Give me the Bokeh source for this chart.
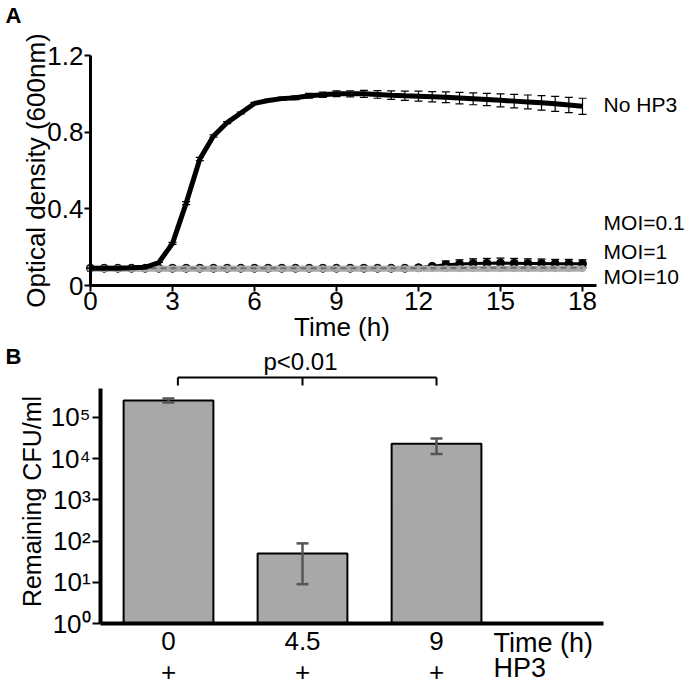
from bokeh.plotting import figure
from bokeh.models import ColumnDataSource, Range1d, FixedTicker, Whisker, TeeHead, Label
from bokeh.layouts import column
from bokeh.embed import file_html
from bokeh.resources import INLINE

FONT = "Liberation Sans"

# ---------------- Panel A data ----------------
hours = [0, 0.5, 1, 1.5, 2, 2.5, 3, 3.5, 4, 4.5, 5, 5.5, 6, 6.5, 7, 7.5, 8, 8.5, 9,
         9.5, 10, 10.5, 11, 11.5, 12, 12.5, 13, 13.5, 14, 14.5, 15, 15.5, 16, 16.5,
         17, 17.5, 18]
od_no_hp3 = [0.09, 0.09, 0.09, 0.092, 0.095, 0.12, 0.22, 0.43, 0.66, 0.78, 0.85, 0.90,
             0.95, 0.965, 0.975, 0.98, 0.99, 0.995, 1.0, 1.0, 1.0, 0.997, 0.993, 0.99,
             0.988, 0.985, 0.982, 0.978, 0.974, 0.97, 0.966, 0.962, 0.958, 0.953, 0.948,
             0.942, 0.935]
od_no_hp3_err = [0, 0, 0, 0, 0, 0, 0.005, 0.008, 0.008, 0.006, 0.005, 0.005, 0.005,
                 0.006, 0.008, 0.01, 0.012, 0.014, 0.015, 0.016, 0.018, 0.02, 0.022,
                 0.024, 0.026, 0.027, 0.028, 0.03, 0.031, 0.032, 0.034, 0.035, 0.036,
                 0.038, 0.039, 0.04, 0.042]
od_moi01 = [0.09, 0.09, 0.09, 0.09, 0.09, 0.09, 0.09, 0.09, 0.09, 0.09, 0.09, 0.09,
            0.09, 0.09, 0.09, 0.09, 0.09, 0.09, 0.09, 0.09, 0.09, 0.09, 0.09, 0.09,
            0.093, 0.10, 0.108, 0.112, 0.115, 0.116, 0.117, 0.116, 0.115, 0.115, 0.114,
            0.114, 0.113]
od_moi01_err = [0, 0, 0, 0, 0, 0, 0, 0, 0, 0, 0, 0, 0, 0, 0, 0, 0, 0, 0, 0, 0, 0, 0, 0,
                0, 0, 0.02, 0.022, 0.024, 0.025, 0.026, 0.025, 0.024, 0.023, 0.022,
                0.022, 0.021]
od_moi1 = [0.09, 0.09, 0.09, 0.09, 0.09, 0.09, 0.09, 0.09, 0.09, 0.09, 0.09, 0.09,
           0.09, 0.09, 0.09, 0.09, 0.09, 0.09, 0.09, 0.09, 0.09, 0.09, 0.09, 0.09,
           0.09, 0.09, 0.091, 0.091, 0.092, 0.092, 0.092, 0.092, 0.092, 0.092, 0.092,
           0.092, 0.092]
od_moi10 = [0.088, 0.088, 0.088, 0.088, 0.088, 0.088, 0.088, 0.088, 0.088, 0.088,
            0.088, 0.088, 0.088, 0.088, 0.088, 0.088, 0.088, 0.088, 0.088, 0.088,
            0.088, 0.088, 0.088, 0.088, 0.088, 0.088, 0.088, 0.088, 0.088, 0.088,
            0.088, 0.088, 0.088, 0.088, 0.088, 0.088, 0.088]
a_xticks = [0, 3, 6, 9, 12, 15, 18]
a_yticks = [0, 0.4, 0.8, 1.2]
a_series_labels = ["No HP3", "MOI=0.1", "MOI=1", "MOI=10"]

# ---------------- Panel B data ----------------
b_times = ["0", "4.5", "9"]
b_hp3 = ["+", "+", "+"]
cfu = [2.6e5, 50, 2.3e4]
cfu_low = [2.3e5, 9, 1.3e4]
cfu_high = [2.9e5, 88, 3.1e4]
b_yticks = [1, 10, 100, 1000, 10000, 100000]
b_ytick_labels = ["10\u2070", "10\u00b9", "10\u00b2", "10\u00b3", "10\u2074", "10\u2075"]
p_text = "p<0.01"


def style_axis(ax, lw, tick_out, font_size, standoff):
    ax.axis_line_width = lw
    ax.axis_line_color = "black"
    ax.major_tick_line_width = 2
    ax.major_tick_line_color = "black"
    ax.major_tick_out = tick_out
    ax.major_tick_in = 0
    ax.minor_tick_out = 0
    ax.minor_tick_in = 0
    ax.major_label_text_font = FONT
    ax.major_label_text_font_size = font_size
    ax.major_label_text_color = "black"
    ax.major_label_standoff = standoff


def txt(x, y, text, size, align="left", bold=False, angle=0):
    return Label(x=x, y=y, text=text, text_font=FONT, text_font_size=size,
                 text_font_style="bold" if bold else "normal", text_color="black",
                 text_align=align, text_baseline="middle", angle=angle, angle_units="deg")


def whisker(src, base, lo, hi, color, lw, head, level):
    return Whisker(source=src, base=base, lower=lo, upper=hi, line_color=color,
                   line_width=lw, level=level,
                   upper_head=TeeHead(size=head, line_color=color, line_width=lw),
                   lower_head=TeeHead(size=head, line_color=color, line_width=lw))


# ================= Panel A =================
p1 = figure(width=685, height=342, x_range=Range1d(-3.293, 21.768),
            y_range=Range1d(-0.2974, 1.487), title=None,
            output_backend="svg", toolbar_location=None,
            min_border_left=0, min_border_right=0, min_border_top=0, min_border_bottom=0)
p1.outline_line_color = None
p1.grid.visible = False

style_axis(p1.xaxis[0], 3, 6, "26px", 0)
style_axis(p1.yaxis[0], 3, 6, "26px", 1)
p1.xaxis.fixed_location = 0
p1.yaxis.fixed_location = 0
p1.xaxis.bounds = (0, 18.5)
p1.yaxis.bounds = (0, 1.2)
p1.xaxis.ticker = FixedTicker(ticks=a_xticks)
p1.yaxis.ticker = FixedTicker(ticks=a_yticks)
p1.yaxis.major_label_overrides = {0: "0"}

srcA = ColumnDataSource(dict(
    t=hours,
    no=od_no_hp3,
    no_lo=[v - e for v, e in zip(od_no_hp3, od_no_hp3_err)],
    no_hi=[v + e for v, e in zip(od_no_hp3, od_no_hp3_err)],
    m01=od_moi01,
    m01_lo=[v - e for v, e in zip(od_moi01, od_moi01_err)],
    m01_hi=[v + e for v, e in zip(od_moi01, od_moi01_err)],
    m1=od_moi1,
    m10=od_moi10,
))

# MOI=0.1 (black, with error bars)
p1.add_layout(whisker(srcA, "t", "m01_lo", "m01_hi", "black", 1.3, 8, "underlay"))
p1.line("t", "m01", source=srcA, line_color="black", line_width=3)
p1.scatter("t", "m01", source=srcA, size=8, fill_color="black", line_color="black")
# MOI=10 (light gray)
p1.line("t", "m10", source=srcA, line_color="#a9a9a9", line_width=6)
p1.scatter("t", "m10", source=srcA, size=6, fill_color="#a9a9a9", line_color="#a9a9a9")
# MOI=1 (dashed)
p1.line("t", "m1", source=srcA, line_color="#707070", line_width=2, line_dash="6 4")
# No HP3
p1.line("t", "no", source=srcA, line_color="black", line_width=5)
p1.add_layout(whisker(srcA, "t", "no_lo", "no_hi", "black", 1.2, 8, "overlay"))

# series labels at the right of the curves
label_x = 18.77
label_y = [0.944, 0.329, 0.177, 0.047]
for t_, y_ in zip(a_series_labels, label_y):
    p1.add_layout(txt(label_x, y_, t_, "21px"))

p1.add_layout(txt(9.2, -0.214, "Time (h)", "26px", align="center"))
p1.add_layout(txt(-1.98, 0.6, "Optical density (600nm)", "26px", align="center", angle=90))
p1.add_layout(txt(-3.11, 1.411, "A", "22px", bold=True))

# ================= Panel B =================
p2 = figure(width=685, height=344, x_range=Range1d(-1.2537, 3.858),
            y_range=Range1d(10 ** -1.529, 10 ** 6.82), y_axis_type="log", title=None,
            output_backend="svg", toolbar_location=None,
            min_border_left=0, min_border_right=0, min_border_top=0, min_border_bottom=0)
p2.outline_line_color = None
p2.grid.visible = False

style_axis(p2.xaxis[0], 4, 0, "26px", 8)
style_axis(p2.yaxis[0], 4, 8, "26px", 2)
p2.xaxis.fixed_location = 1
p2.yaxis.fixed_location = -0.507
p2.xaxis.bounds = (-0.507, 3.246)
p2.yaxis.bounds = (1, 10 ** 5.7)
p2.yaxis.ticker = FixedTicker(ticks=b_yticks)
p2.yaxis.major_label_overrides = dict(zip(b_yticks, b_ytick_labels))
xidx = list(range(len(b_times)))
p2.xaxis.ticker = FixedTicker(ticks=xidx)
p2.xaxis.major_label_overrides = dict(zip(xidx, b_times))

srcB = ColumnDataSource(dict(x=xidx, cfu=cfu, lo=cfu_low, hi=cfu_high))
p2.vbar(x="x", top="cfu", bottom=1, width=0.67, source=srcB,
        fill_color="#a8a8a8", line_color="black", line_width=2)
p2.add_layout(whisker(srcB, "x", "lo", "hi", "#555555", 2.5, 12, "overlay"))

# significance bracket between first and last bars
y_br = max(cfu_high) * 3.2
y_br_tick = y_br / 1.56
x_left = xidx[0] + 0.07
x_mid = xidx[1]
x_right = xidx[2]
p2.segment(x0=[x_left, x_left, x_mid, x_right], y0=[y_br] * 4,
           x1=[x_right, x_left, x_mid, x_right], y1=[y_br, y_br_tick, y_br_tick, y_br_tick],
           line_color="black", line_width=2)
p2.add_layout(txt(x_mid - 0.015, y_br * 2.44, p_text, "24px", align="center"))

for i, s in zip(xidx, b_hp3):
    p2.add_layout(txt(i, 10 ** -1.189, s, "26px", align="center"))
p2.add_layout(txt(2.425, 10 ** -0.485, "Time (h)", "27px"))
p2.add_layout(txt(2.425, 10 ** -1.092, "HP3", "27px"))
p2.add_layout(txt(-1.015, 10 ** 2.96, "Remaining CFU/ml", "25px", align="center", angle=90))
p2.add_layout(txt(-1.216, 10 ** 6.481, "B", "22px", bold=True))

layout = column(p1, p2)
open("out.html", "w").write(file_html(layout, INLINE))
